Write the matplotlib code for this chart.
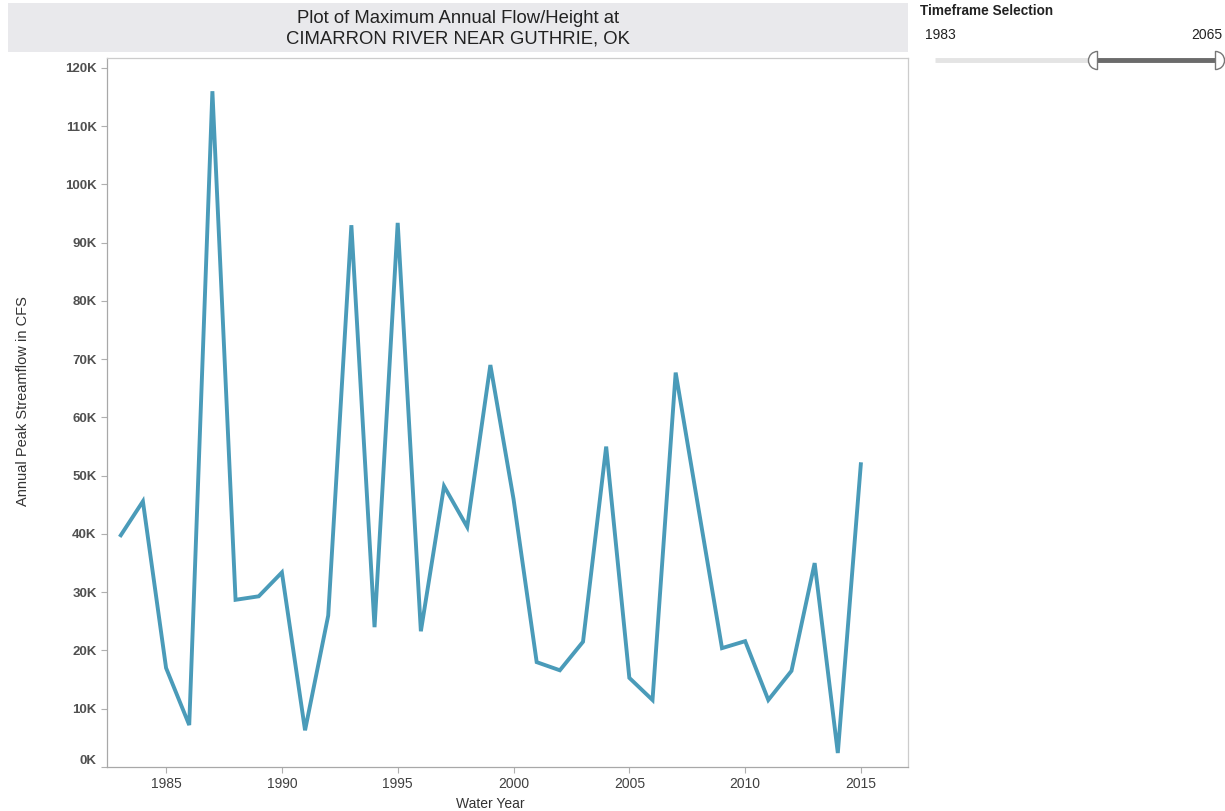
import numpy as np
import matplotlib
matplotlib.use('Agg')
import matplotlib.pyplot as plt
from matplotlib.patches import Rectangle
from matplotlib.path import Path
from matplotlib.transforms import ScaledTranslation

plt.rcParams['font.family'] = ['Liberation Sans', 'DejaVu Sans']

# annual peak streamflow
years = list(range(1983, 2016))
peak_cfs = [39500, 45600, 17000, 7200, 116000, 28700, 29300, 33400, 6300, 26000,
            93000, 24000, 93400, 23300, 48200, 41200, 69000, 46000, 18000, 16600,
            21500, 55000, 15300, 11500, 67700, 44000, 20400, 21600, 11500, 16500,
            35000, 2400, 52300]

yticks = list(range(0, 120001, 10000))
ytick_labels = ['%dK' % (v // 1000) for v in yticks]
xticks = [1985, 1990, 1995, 2000, 2005, 2010, 2015]

title = 'Plot of Maximum Annual Flow/Height at\nCIMARRON RIVER NEAR GUTHRIE, OK'
slider_title = 'Timeframe Selection'
slider_min, slider_max = 1983, 2065
slider_lo = 2030.4

W, H = 1225, 811
fig = plt.figure(figsize=(W / 100, H / 100), dpi=100)

# title banner
fig.patches.append(Rectangle((8 / W, 1 - 52 / H), 900 / W, 49 / H,
                             transform=fig.transFigure, facecolor='#e9e9ec',
                             edgecolor='none', zorder=0))
fig.text(458 / W, 1 - 28.5 / H, title, ha='center', va='center',
         fontsize=13.3, color='#222222', linespacing=1.25)

# main plot
ax = fig.add_axes([107 / W, 1 - 767 / H, 801 / W, 709 / H])
ax.plot(years, peak_cfs, color='#4a9bb9', lw=2.8, solid_joinstyle='miter',
        solid_capstyle='butt')
ax.set_xlim(1982.45, 2017.03)
ax.set_ylim(0, 121700)
ax.set_yticks(yticks)
ax.set_yticklabels(ytick_labels, fontweight='bold')
ax.set_xticks(xticks)
ax.tick_params(axis='both', colors='#b0b0b0', labelcolor='#505050',
               length=4, width=0.8)
ax.tick_params(axis='y', labelsize=9.5)
ax.tick_params(axis='x', labelsize=10, labelcolor='#404040')
for s in ax.spines.values():
    s.set_color('#cccccc')
    s.set_linewidth(0.9)
ax.spines['left'].set_color('#a8a8a8')
ax.spines['bottom'].set_color('#a8a8a8')

# nudge the 0K label up like the original
lab0 = ax.get_yticklabels()[0]
lab0.set_transform(lab0.get_transform() + ScaledTranslation(0, 0.08, fig.dpi_scale_trans))

ax.set_xlabel('Water Year', fontsize=10, color='#333333')
ax.set_ylabel('Annual Peak Streamflow in CFS', fontsize=10.5, color='#333333')
ax.xaxis.set_label_coords(0.478, -0.042)
ax.yaxis.set_label_coords(-0.096, 0.516)

# timeframe slider
fig.text(920 / W, 1 - 11 / H, slider_title, ha='left', va='center',
         fontsize=9.8, fontweight='bold', color='#222222')
fig.text(925 / W, 1 - 35 / H, str(slider_min), ha='left', va='center',
         fontsize=10, color='#222222')
fig.text(1222 / W, 1 - 35 / H, str(slider_max), ha='right', va='center',
         fontsize=10, color='#222222')

sax = fig.add_axes([935 / W, 1 - 70 / H, 280 / W, 20 / H])
sax.set_xlim(slider_min, slider_max)
sax.set_ylim(-1, 1)
sax.axis('off')
sax.plot([slider_min, slider_max], [0, 0], color='#e4e4e4', lw=3.5,
         solid_capstyle='butt')
sax.plot([slider_lo, slider_max], [0, 0], color='#6b6b6b', lw=3.5,
         solid_capstyle='butt')
left_handle = Path.wedge(90, 270)
right_handle = Path.wedge(-90, 90)
sax.plot([slider_lo], [0], marker=left_handle, ms=13, mfc='white',
         mec='#777777', mew=1.0, clip_on=False)
sax.plot([slider_max], [0], marker=right_handle, ms=13, mfc='white',
         mec='#777777', mew=1.0, clip_on=False)

fig.savefig('out.png', dpi=100)
